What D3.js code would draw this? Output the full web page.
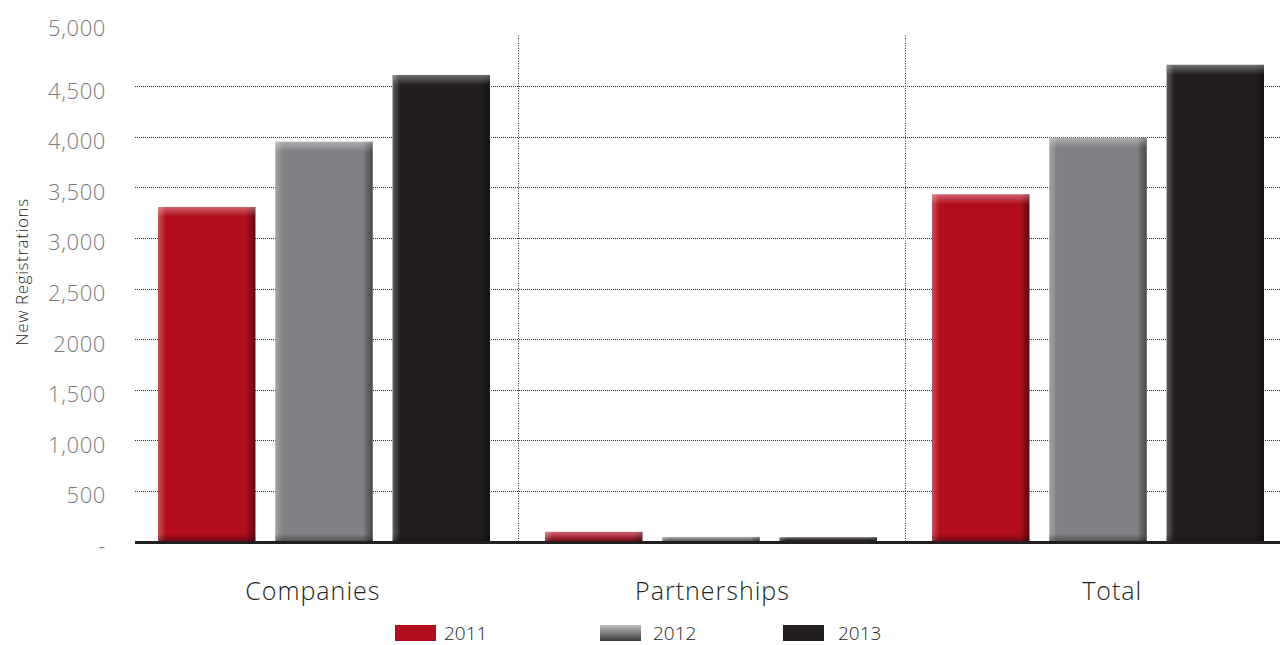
<!DOCTYPE html>
<html>
<head>
<meta charset="utf-8">
<script src="https://cdn.jsdelivr.net/npm/d3@7/dist/d3.min.js"></script>
<style>
  html, body { margin: 0; padding: 0; background: #fff; }
  svg { display: block; }
  text { font-family: "Open Sans", Lato, sans-serif; }
</style>
</head>
<body>
<svg id="chart" width="1280" height="645"></svg>
<script>
// New registrations by entity type and year
const categories = ["Companies", "Partnerships", "Total"];
const years = ["2011", "2012", "2013"];
const values2011 = [3305, 95, 3430];
const values2012 = [3950, 45, 3990];
const values2013 = [4610, 42, 4710];
const yTicks = [0, 500, 1000, 1500, 2000, 2500, 3000, 3500, 4000, 4500, 5000];
const yTickLabels = ["-", "500", "1,000", "1,500", "2000", "2,500", "3,000", "3,500", "4,000", "4,500", "5,000"];
const yTitle = "New Registrations";

const seriesByYear = { "2011": values2011, "2012": values2012, "2013": values2013 };
const colors = { "2011": "#b20d1c", "2012": "#808184", "2013": "#231f20" };

const svg = d3.select("#chart");
const plotLeft = 135, plotRight = 1280, plotTop = 35.5, plotBottom = 541.5;

const x0 = d3.scaleBand().domain(categories).range([plotLeft, 1296]);
const x1 = d3.scaleBand().domain(years).range([23, 355]).paddingInner(0.17);
const y = d3.scaleLinear().domain([0, 5000]).range([plotBottom, plotTop]);

// gradients for the bevelled bar look
const defs = svg.append("defs");
const hg = defs.append("linearGradient").attr("id", "hShade").attr("x1", 0).attr("x2", 1).attr("y1", 0).attr("y2", 0);
hg.append("stop").attr("offset", 0).attr("stop-color", "#fff").attr("stop-opacity", 0.28);
hg.append("stop").attr("offset", 0.08).attr("stop-color", "#fff").attr("stop-opacity", 0);
hg.append("stop").attr("offset", 0.9).attr("stop-color", "#000").attr("stop-opacity", 0);
hg.append("stop").attr("offset", 1).attr("stop-color", "#000").attr("stop-opacity", 0.45);

const tg = defs.append("linearGradient").attr("id", "topShade").attr("x1", 0).attr("x2", 0).attr("y1", 0).attr("y2", 1);
tg.append("stop").attr("offset", 0).attr("stop-color", "#fff").attr("stop-opacity", 0.35);
tg.append("stop").attr("offset", 1).attr("stop-color", "#fff").attr("stop-opacity", 0);

const bg = defs.append("linearGradient").attr("id", "botShade").attr("x1", 0).attr("x2", 0).attr("y1", 0).attr("y2", 1);
bg.append("stop").attr("offset", 0).attr("stop-color", "#000").attr("stop-opacity", 0);
bg.append("stop").attr("offset", 1).attr("stop-color", "#000").attr("stop-opacity", 0.35);

const lg = defs.append("linearGradient").attr("id", "legendGray").attr("x1", 0).attr("x2", 0).attr("y1", 0).attr("y2", 1);
lg.append("stop").attr("offset", 0).attr("stop-color", "#bdbdbd");
lg.append("stop").attr("offset", 1).attr("stop-color", "#3a3a3a");

// horizontal dotted gridlines
const grid = svg.append("g");
grid.selectAll("line.h").data(yTicks.filter(t => t > 0 && t < 5000)).join("line")
  .attr("x1", plotLeft).attr("x2", plotRight)
  .attr("y1", d => Math.round(y(d)) + 0.5).attr("y2", d => Math.round(y(d)) + 0.5)
  .attr("stroke", "#333").attr("stroke-width", 1).attr("stroke-dasharray", "1,1");

// vertical dotted separators, halfway between neighbouring bar groups
const sepX = d => Math.round((x0(categories[categories.indexOf(d) - 1]) + x1.range()[1] + x0(d) + x1.range()[0]) / 2) + 0.5;
grid.selectAll("line.v").data(categories.slice(1)).join("line")
  .attr("x1", sepX).attr("x2", sepX)
  .attr("y1", plotTop).attr("y2", plotBottom)
  .attr("stroke", "#333").attr("stroke-width", 1).attr("stroke-dasharray", "1,1.5");

// bars
const rows = categories.map((c, i) => ({ cat: c, vals: years.map(yr => ({ year: yr, value: seriesByYear[yr][i] })) }));
const groups = svg.append("g").selectAll("g").data(rows).join("g")
  .attr("transform", d => `translate(${x0(d.cat)},0)`);

const bars = groups.selectAll("g.bar").data(d => d.vals).join("g").attr("class", "bar");
bars.append("rect")
  .attr("x", d => x1(d.year)).attr("width", x1.bandwidth())
  .attr("y", d => y(d.value)).attr("height", d => plotBottom - y(d.value))
  .attr("fill", d => colors[d.year]);
bars.append("rect")
  .attr("x", d => x1(d.year)).attr("width", x1.bandwidth())
  .attr("y", d => y(d.value)).attr("height", d => plotBottom - y(d.value))
  .attr("fill", "url(#hShade)");
bars.append("rect")
  .attr("x", d => x1(d.year)).attr("width", x1.bandwidth())
  .attr("y", d => y(d.value)).attr("height", d => Math.min(10, plotBottom - y(d.value)))
  .attr("fill", "url(#topShade)");
bars.append("rect")
  .attr("x", d => x1(d.year)).attr("width", x1.bandwidth())
  .attr("y", d => Math.max(y(d.value), plotBottom - 8)).attr("height", d => Math.min(8, plotBottom - y(d.value)))
  .attr("fill", "url(#botShade)");

// baseline
svg.append("line")
  .attr("x1", plotLeft).attr("x2", plotRight).attr("y1", plotBottom + 1).attr("y2", plotBottom + 1)
  .attr("stroke", "#231f20").attr("stroke-width", 3);

// y axis labels
const yAxis = d3.axisLeft(y).tickValues(yTicks).tickSize(0).tickPadding(0)
  .tickFormat((d, i) => yTickLabels[i]);
const yg = svg.append("g").attr("transform", "translate(106,5)").call(yAxis);
yg.select(".domain").remove();
yg.selectAll("text")
  .attr("fill", "#7a7a7c").attr("font-size", 22).attr("font-weight", 300)
  .attr("letter-spacing", 0.6)
  .attr("font-family", "'Open Sans', Lato, sans-serif")
  .attr("dy", d => d === 5000 ? "-0.24em" : "0.32em");

// y title
svg.append("text")
  .attr("transform", "translate(28,272) rotate(-90)")
  .attr("text-anchor", "middle").attr("font-size", 17).attr("font-weight", 300)
  .attr("letter-spacing", 0.6).attr("fill", "#231f20")
  .text(yTitle);

// category labels
const xLab = d3.scaleBand().domain(categories).range([113, 1312]);
svg.append("g").selectAll("text").data(categories).join("text")
  .attr("x", d => xLab(d) + xLab.bandwidth() / 2).attr("y", 600)
  .attr("text-anchor", "middle").attr("font-size", 25).attr("font-weight", 300)
  .attr("letter-spacing", 1).attr("fill", "#231f20")
  .text(d => d);

// legend
const legendX = d3.scaleOrdinal().domain(years).range([395, 600, 783]);
const lgd = svg.append("g").selectAll("g").data(years).join("g")
  .attr("transform", d => `translate(${legendX(d)},625)`);
lgd.append("rect").attr("width", 41).attr("height", 16)
  .attr("fill", d => d === "2012" ? "url(#legendGray)" : colors[d]);
lgd.append("text").attr("x", d => d === "2011" ? 49 : d === "2012" ? 53 : 55).attr("y", 15)
  .attr("font-size", 19).attr("font-weight", 300).attr("fill", "#231f20").text(d => d);
</script>
</body>
</html>
